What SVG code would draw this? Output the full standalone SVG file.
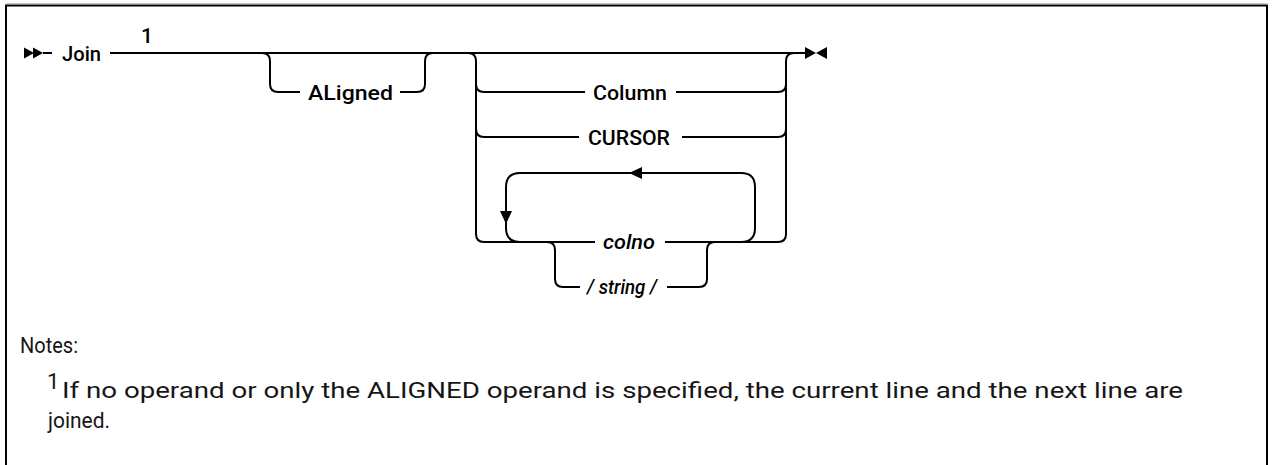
<svg xmlns="http://www.w3.org/2000/svg" width="1273" height="465" viewBox="0 0 1273 465">
<style>
.ln{fill:none;stroke:#000;stroke-width:2;stroke-linecap:butt;stroke-linejoin:round}
.lbl{font-family:Roboto,"Liberation Sans",sans-serif;font-size:21px;font-weight:500;fill:#000}
.var{font-family:Roboto,"Liberation Sans",sans-serif;font-size:21px;font-style:italic;font-weight:500;fill:#000}
.note{font-family:Roboto,"Liberation Sans",sans-serif;font-size:22px;fill:#161616}
.arr{fill:#000;stroke:none}
</style>
<rect x="0" y="0" width="1273" height="465" fill="#fff"/>
<path d="M6,465 V5.5 H1267 V465" fill="none" stroke="#000" stroke-width="2"/>
<line x1="6" y1="4" x2="1267" y2="4" stroke="#888" stroke-width="1"/>

<g id="connectors">
  <path class="ln" d="M43,53 H52"/>
  <path class="ln" d="M110,53 H805"/>
  <path class="ln" d="M262,53 Q270,53 270,61 V84 Q270,92 278,92 H300"/>
  <path class="ln" d="M400,92 H417 Q425,92 425,84 V61 Q425,53 433,53"/>
  <path class="ln" d="M468,53 Q476,53 476,61 V234 Q476,242 484,242 H595"/>
  <path class="ln" d="M476,84 Q476,92 484,92 H585"/>
  <path class="ln" d="M676,92 H778 Q786,92 786,84"/>
  <path class="ln" d="M476,129 Q476,137 484,137 H579"/>
  <path class="ln" d="M682,137 H778 Q786,137 786,129"/>
  <path class="ln" d="M665,242 H778 Q786,242 786,234 V61 Q786,53 794,53"/>
  <path class="ln" d="M520,242 Q506,242 506,228 V187 Q506,173 520,173 H741 Q755,173 755,187 V228 Q755,242 741,242"/>
  <path class="ln" d="M547,242 Q555,242 555,250 V279 Q555,287 563,287 H580"/>
  <path class="ln" d="M667,287 H699 Q707,287 707,279 V250 Q707,242 715,242"/>
  <polygon class="arr" points="500,211 512,211 506,224"/>
  <polygon class="arr" points="629,173 642,167 642,179"/>
</g>

<g id="start">
  <polygon class="arr" points="24,47.5 34,53 24,58.5"/>
  <polygon class="arr" points="33,47.5 43,53 33,58.5"/>
</g>
<g id="end">
  <polygon class="arr" points="805,47 816,53 805,59"/>
  <polygon class="arr" points="827,47 816,53 827,59"/>
</g>

<g id="join"><text class="lbl" x="62" y="60.5" textLength="39" lengthAdjust="spacingAndGlyphs">Join</text>
<text class="lbl" x="141" y="43" font-size="18" font-weight="700">1</text></g>
<g id="aligned"><text class="lbl" x="308" y="99.5" textLength="85" lengthAdjust="spacingAndGlyphs">ALigned</text></g>
<g id="column"><text class="lbl" x="593" y="99.5" textLength="74" lengthAdjust="spacingAndGlyphs">Column</text></g>
<g id="cursor"><text class="lbl" x="588" y="144.5" textLength="82" lengthAdjust="spacingAndGlyphs">CURSOR</text></g>
<g id="colno"><text class="var" x="603" y="249" textLength="52" lengthAdjust="spacingAndGlyphs">colno</text></g>
<g id="string"><text class="var" x="587" y="294" textLength="70" lengthAdjust="spacingAndGlyphs">/ string /</text></g>

<g id="notes">
  <text class="note" x="20" y="353" textLength="58" lengthAdjust="spacingAndGlyphs">Notes:</text>
  <text class="note" x="47" y="389" font-size="15">1</text>
  <text class="note" x="62" y="398" textLength="1121" lengthAdjust="spacingAndGlyphs">If no operand or only the ALIGNED operand is specified, the current line and the next line are</text>
  <text class="note" x="48" y="428" textLength="62" lengthAdjust="spacingAndGlyphs">joined.</text>
</g>
</svg>
